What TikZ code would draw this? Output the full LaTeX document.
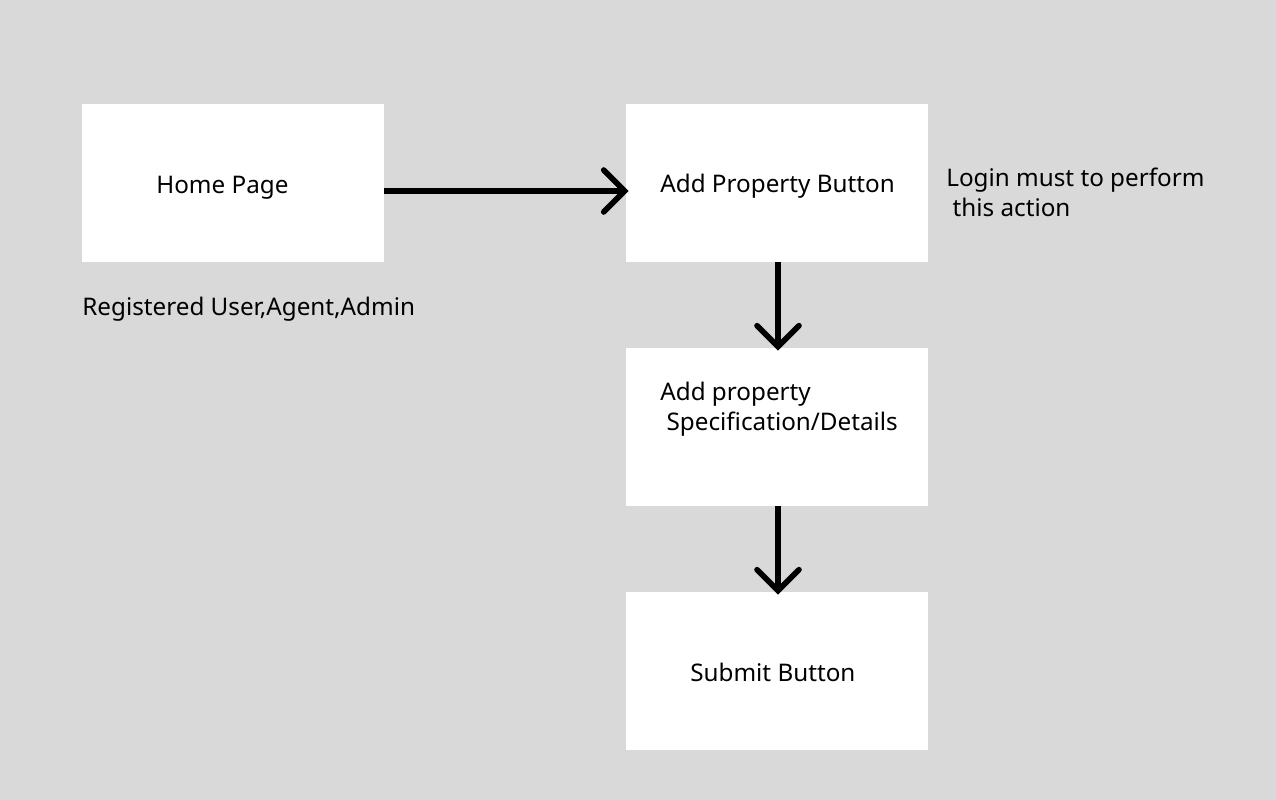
\documentclass[tikz,border=0pt]{standalone}
\usepackage{fontspec}
\setmainfont{Noto Sans}
\usetikzlibrary{arrows.meta}

\begin{document}
\begin{tikzpicture}[x=0.02cm,y=-0.02cm,
    pagebox/.style={fill=white,minimum width=6.04cm,minimum height=3.16cm,inner sep=0pt},
    flow/.style={line width=3.2pt,shorten >=-0.06cm,-{Straight Barb[length=0.42cm,width=0.84cm,line cap=round]}},
    note/.style={anchor=west,inner sep=0pt,font=\fontsize{13.8}{17}\selectfont,align=left}]
    \fill[fill={rgb,255:red,217;green,217;blue,217}] (0,0) rectangle (1276,800);
    \node[pagebox](home) at (233,183){};
    \node[note] at (156,188) {Home Page};
    \node[pagebox](addbtn) at (777,183){};
    \node[note] at (660,186) {Add Property Button};
    \node[pagebox](spec) at (777,427){};
    \node[note,anchor=north west] at (660,382) {Add property\\ \ Specification/Details};
    \node[pagebox](submit) at (777,671){};
    \node[note] at (690,672) {Submit Button};
    \node[note] (users) at (82,309) {Registered User,Agent,Admin};
    \node[note,anchor=north west] (login) at (946,168) {Login must to perform\\ \ this action};
    \draw[flow] (home.east |- 0,191) -- (addbtn.west |- 0,191);
    \draw[flow] ([xshift=0.02cm]addbtn.south) -- ([xshift=0.02cm]spec.north);
    \draw[flow] ([xshift=0.02cm]spec.south) -- ([xshift=0.02cm]submit.north);
\end{tikzpicture}
\end{document}
